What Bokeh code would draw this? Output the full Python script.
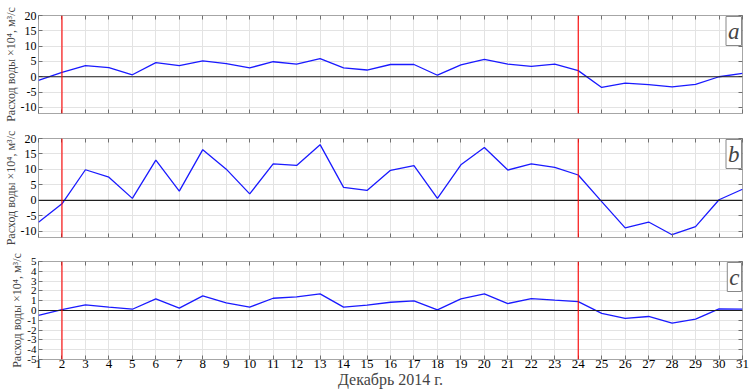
from bokeh.plotting import figure
from bokeh.layouts import column
from bokeh.models import FixedTicker, LinearAxis, Span, Label, CustomLabelingPolicy
from bokeh.embed import file_html
from bokeh.resources import INLINE

days = list(range(1, 32))
flow_a = [-1.2, 1.4, 3.6, 3.0, 0.65, 4.6, 3.6, 5.2, 4.3, 2.9, 4.9, 4.1, 5.9, 2.9, 2.2,
          4.0, 4.0, 0.5, 3.9, 5.65, 4.1, 3.4, 4.1, 2.0, -3.5, -2.1, -2.6, -3.3, -2.5, 0.0, 1.1]
flow_b = [-7.1, -1.1, 9.9, 7.5, 0.65, 13.0, 3.0, 16.4, 10.1, 2.1, 11.8, 11.3, 18.0, 4.2, 3.2,
          9.7, 11.2, 0.65, 11.5, 17.1, 9.8, 11.8, 10.7, 8.2, -0.4, -8.9, -7.0, -11.1, -8.5, 0.2, 3.6]
flow_c = [-0.5, 0.1, 0.57, 0.34, 0.13, 1.18, 0.24, 1.49, 0.78, 0.34, 1.25, 1.39, 1.69, 0.34, 0.55,
          0.84, 0.98, 0.07, 1.18, 1.69, 0.71, 1.22, 1.05, 0.91, -0.3, -0.81, -0.61, -1.28, -0.88, 0.17, 0.14]
ticks_ab = [-10, -5, 0, 5, 10, 15, 20]
ticks_c = [-5, -4, -3, -2, -1, 0, 1, 2, 3, 4, 5]
event_days = [2, 24]
panel_letters = ["a", "b", "c"]
y_label = "Расход воды ×10⁴, м³/с"
x_label = "Декабрь 2014 г."

FONT = "Liberation Serif"
GRID = "#e3e3e3"
BOX = "#a6a6a6"
TICK = "#707070"


def no_labels():
    return CustomLabelingPolicy(code="return new Set()")


def make_panel(values, yr, yticks, letter, bottom, top_border, bottom_border, fh):
    p = figure(frame_width=704, frame_height=fh, x_range=(1, 31), y_range=yr,
               output_backend="svg", toolbar_location=None,
               min_border_left=30, min_border_right=2,
               min_border_top=top_border, min_border_bottom=bottom_border)
    p.outline_line_color = BOX
    p.outline_line_width = 1
    p.background_fill_color = "white"
    p.border_fill_color = "white"

    p.xgrid.ticker = FixedTicker(ticks=days)
    p.ygrid.ticker = FixedTicker(ticks=yticks)
    p.xgrid.grid_line_color = GRID
    p.ygrid.grid_line_color = GRID

    xa = p.xaxis[0]
    xa.ticker = FixedTicker(ticks=days)
    xa.major_tick_in = 4
    xa.major_tick_out = 0
    xa.minor_tick_line_color = None
    xa.axis_line_color = None
    xa.major_tick_line_color = TICK
    if bottom:
        xa.major_label_text_font = FONT
        xa.major_label_text_font_size = "13px"
        xa.major_label_text_color = "black"
        xa.major_label_standoff = 0
        xa.axis_label = x_label
        xa.axis_label_text_font = FONT
        xa.axis_label_text_font_size = "16px"
        xa.axis_label_text_font_style = "normal"
        xa.axis_label_standoff = 0
    else:
        xa.major_label_policy = no_labels()
        xa.major_label_standoff = 0

    ya = p.yaxis[0]
    ya.ticker = FixedTicker(ticks=yticks)
    ya.major_label_overrides = {v: str(v) for v in yticks}
    ya.major_tick_in = 4
    ya.major_tick_out = 0
    ya.minor_tick_line_color = None
    ya.axis_line_color = None
    ya.major_tick_line_color = TICK
    ya.major_label_text_font = FONT
    ya.major_label_text_font_size = "12px" if len(yticks) < 8 else "11px"
    ya.major_label_text_color = "black"
    ya.major_label_standoff = 2
    ya.axis_label = y_label
    ya.axis_label_text_font = FONT
    ya.axis_label_text_font_size = "12px"
    ya.axis_label_text_font_style = "normal"
    ya.axis_label_standoff = 0

    ta = LinearAxis(ticker=FixedTicker(ticks=days), major_tick_in=4, major_tick_out=0,
                    minor_tick_line_color=None, axis_line_color=None,
                    major_tick_line_color=TICK, major_label_policy=no_labels(),
                    major_label_standoff=0)
    p.add_layout(ta, "above")
    ra = LinearAxis(ticker=FixedTicker(ticks=yticks), major_tick_in=4, major_tick_out=0,
                    minor_tick_line_color=None, axis_line_color=None,
                    major_tick_line_color=TICK, major_label_policy=no_labels(),
                    major_label_standoff=0)
    p.add_layout(ra, "right")

    p.add_layout(Span(location=0, dimension="width", line_color="#202020", line_width=1.2))
    for d in event_days:
        p.add_layout(Span(location=d, dimension="height", line_color="#ff0000", line_width=1.1))

    p.line(days, values, line_color="#1a1aff", line_width=1.3)

    p.add_layout(Label(x=31, y=yr[1], text=letter, text_align="right", text_baseline="top",
                       text_font=FONT, text_font_style="italic", text_font_size="23px",
                       border_line_color="#888888", background_fill_color="white",
                       padding=2, x_offset=-1, y_offset=-1))
    return p


pa = make_panel(flow_a, (-12, 20), ticks_ab, panel_letters[0], False, 15, 12, 98)
pb = make_panel(flow_b, (-12, 20), ticks_ab, panel_letters[1], False, 13, 10, 99)
pc = make_panel(flow_c, (-5, 5), ticks_c, panel_letters[2], True, 13, 31, 98)

layout = column(pa, pb, pc, spacing=0)
open("out.html", "w").write(file_html(layout, INLINE))
